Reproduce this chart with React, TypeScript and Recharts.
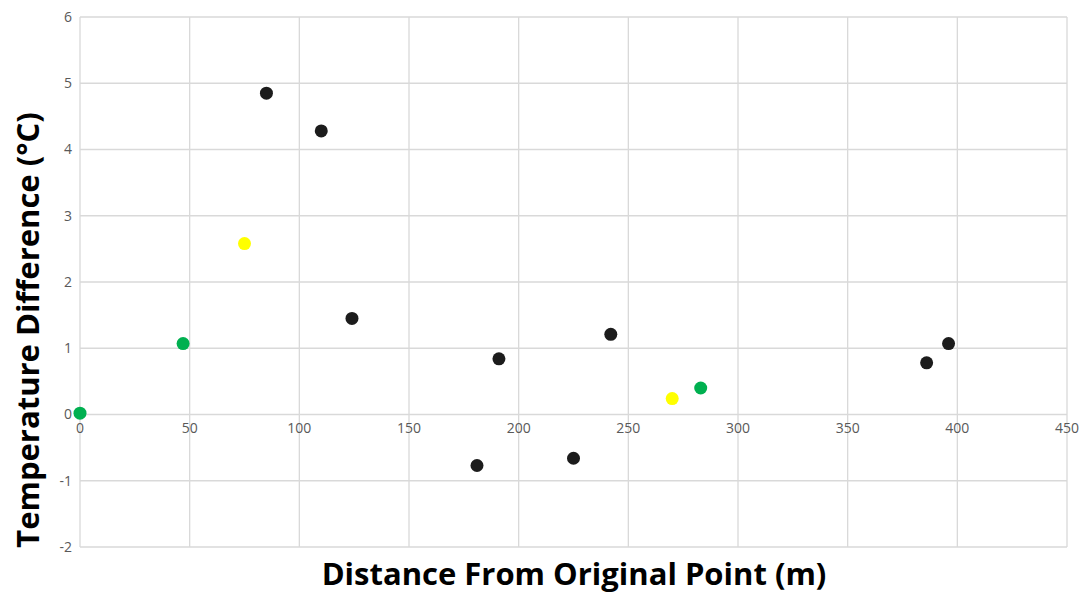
import { CartesianGrid, Scatter, ScatterChart, XAxis, YAxis } from "recharts";

const greenPts = [
  { x: 0, y: 0.02 },
  { x: 47, y: 1.07 },
  { x: 283, y: 0.4 },
];
const yellowPts = [
  { x: 75, y: 2.58 },
  { x: 270, y: 0.24 },
];
const blackPts = [
  { x: 85, y: 4.85 },
  { x: 110, y: 4.28 },
  { x: 124, y: 1.45 },
  { x: 181, y: -0.77 },
  { x: 191, y: 0.84 },
  { x: 225, y: -0.66 },
  { x: 242, y: 1.21 },
  { x: 386, y: 0.78 },
  { x: 396, y: 1.07 },
];
const xTicks = [0, 50, 100, 150, 200, 250, 300, 350, 400, 450];
const yTicks = [-2, -1, 0, 1, 2, 3, 4, 5, 6];

const W = 1083;
const H = 593;
const TOP = 17;
const X_AXIS_H = 30;
const BOTTOM = 16;
const PLOT_H = H - TOP - BOTTOM - X_AXIS_H;
const Y_MIN = -2;
const Y_MAX = 6;
// x tick labels sit under the y=0 line, not at the bottom
const ZERO_SHIFT = (PLOT_H * (0 - Y_MIN)) / (Y_MAX - Y_MIN);

const font = "'Open Sans', 'Liberation Sans', sans-serif";

const Dot = ({ cx, cy, fill }: any) => <circle cx={cx} cy={cy} r={6.5} fill={fill} />;

const XTick = ({ x, y, payload }: any) => (
  <text x={x} y={y - ZERO_SHIFT + 10} textAnchor="middle" fill="#595959" fontSize={14} fontFamily={font}>
    {payload.value}
  </text>
);

export default function App() {
  return (
    <div style={{ position: "absolute", left: 0, top: 0, width: W, height: H, background: "#fff", overflow: "visible" }}>
      <ScatterChart
        width={W}
        height={H}
        margin={{ top: TOP, right: 16, bottom: BOTTOM, left: 20 }}
        style={{ overflow: "visible" }}
      >
        <CartesianGrid stroke="#d9d9d9" strokeWidth={1.3} />
        <XAxis
          type="number"
          dataKey="x"
          domain={[0, 450]}
          ticks={xTicks}
          height={X_AXIS_H}
          axisLine={false}
          tickLine={false}
          tick={<XTick />}
          interval={0}
        />
        <YAxis
          type="number"
          dataKey="y"
          domain={[Y_MIN, Y_MAX]}
          ticks={yTicks}
          width={60}
          axisLine={false}
          tickLine={false}
          interval={0}
          tick={{ fill: "#595959", fontSize: 14, fontFamily: font }}
        />
        <Scatter data={greenPts} fill="#00b050" shape={<Dot />} isAnimationActive={false} />
        <Scatter data={yellowPts} fill="#ffff00" shape={<Dot />} isAnimationActive={false} />
        <Scatter data={blackPts} fill="#1c1c1c" shape={<Dot />} isAnimationActive={false} />
      </ScatterChart>
      <svg width={W} height={H} style={{ position: "absolute", left: 0, top: 0, pointerEvents: "none" }}>
        <text
          x={574}
          y={H - 8}
          textAnchor="middle"
          fontSize={31}
          fontWeight="bold"
          fontFamily={font}
          fill="#000"
        >
          Distance From Original Point (m)
        </text>
        <text
          transform="translate(39, 330) rotate(-90)"
          textAnchor="middle"
          fontSize={31}
          fontWeight="bold"
          fontFamily={font}
          fill="#000"
        >
          Temperature Difference (°C)
        </text>
      </svg>
    </div>
  );
}
